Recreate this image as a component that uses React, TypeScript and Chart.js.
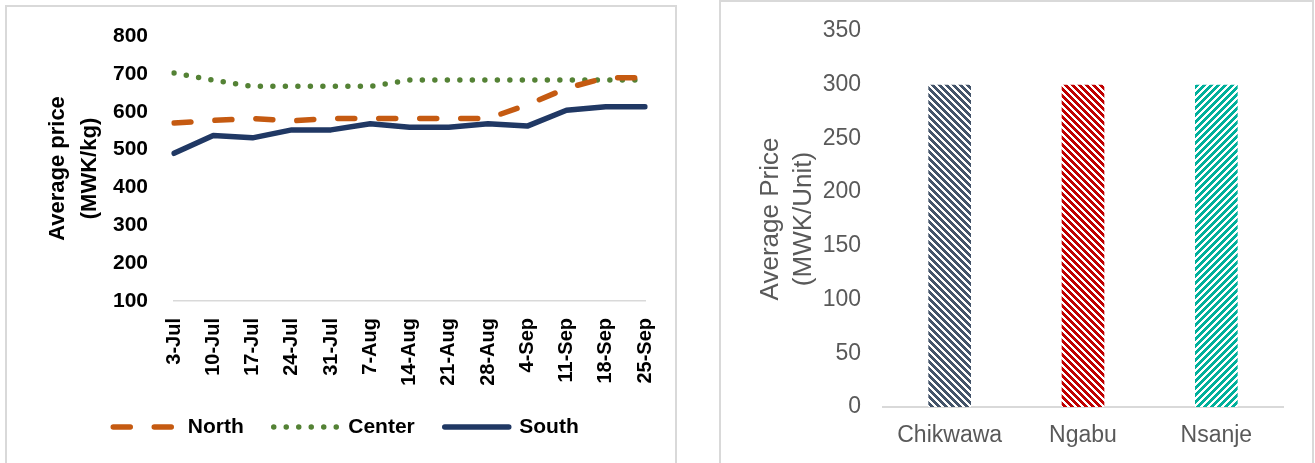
import React, { useEffect, useRef } from "react";
import { Chart, registerables } from "chart.js";

Chart.register(...registerables);

// ---- Left chart data ----
const weeks = ["3-Jul", "10-Jul", "17-Jul", "24-Jul", "31-Jul", "7-Aug", "14-Aug", "21-Aug", "28-Aug", "4-Sep", "11-Sep", "18-Sep", "25-Sep"];
const northPrices = [570, 577, 582, 576, 582, 582, 582, 582, 582, 618, 662, 690, 690];
const centerPrices = [702, 683, 667, 667, 667, 667, 684, 684, 684, 684, 684, 684, 684];
const southPrices = [490, 537, 531, 552, 552, 568, 559, 559, 568, 562, 604, 613, 613];
const lineAxisMin = 100;
const lineAxisMax = 800;
const lineAxisStep = 100;

// ---- Right chart data ----
const districts = ["Chikwawa", "Ngabu", "Nsanje"];
const districtPrices = [300, 300, 300];
const barAxisMin = 0;
const barAxisMax = 350;
const barAxisStep = 50;

const FONT = "'Liberation Sans', Arial, sans-serif";

function stripePattern(color: string, dir: "down" | "up"): CanvasPattern | string {
  const n = 7;
  const c = document.createElement("canvas");
  c.width = n;
  c.height = n;
  const g = c.getContext("2d");
  if (!g) return color;
  g.fillStyle = "#ffffff";
  g.fillRect(0, 0, n, n);
  g.fillStyle = color;
  for (let y = 0; y < n; y++) {
    for (let x = 0; x < n; x++) {
      const k = dir === "down" ? (((x - y) % n) + n) % n : (x + y) % n;
      if (k < 4) g.fillRect(x, y, 1, 1);
    }
  }
  return g.createPattern(c, "repeat") || color;
}

function LineChart() {
  const ref = useRef<HTMLCanvasElement | null>(null);
  useEffect(() => {
    if (!ref.current) return;
    const chart = new Chart(ref.current, {
      type: "line",
      data: {
        labels: weeks,
        datasets: [
          {
            label: "North",
            data: northPrices,
            borderColor: "#c55a11",
            backgroundColor: "#c55a11",
            borderWidth: 5.5,
            borderDash: [17, 24],
            borderCapStyle: "round",
            borderJoinStyle: "round",
            pointRadius: 0,
            tension: 0,
            fill: false,
          },
          {
            label: "Center",
            data: centerPrices,
            borderColor: "#548235",
            backgroundColor: "#548235",
            borderWidth: 5.5,
            borderDash: [0, 12.5],
            borderCapStyle: "round",
            borderJoinStyle: "round",
            pointRadius: 0,
            tension: 0,
            fill: false,
          },
          {
            label: "South",
            data: southPrices,
            borderColor: "#203864",
            backgroundColor: "#203864",
            borderWidth: 5.5,
            borderCapStyle: "round",
            borderJoinStyle: "round",
            pointRadius: 0,
            tension: 0,
            fill: false,
          },
        ],
      },
      options: {
        animation: false,
        responsive: false,
        maintainAspectRatio: false,
        layout: { autoPadding: false, padding: { left: 42, right: 32, top: 31, bottom: 15.5 } },
        plugins: {
          tooltip: { enabled: false },
          legend: {
            position: "bottom",
            labels: {
              usePointStyle: true,
              pointStyle: "line",
              pointStyleWidth: 64,
              padding: 30,
              color: "#000000",
              font: { family: FONT, size: 21, weight: "bold" },
              generateLabels: (ch: any) => {
                const items = Chart.defaults.plugins.legend.labels.generateLabels(ch);
                return items.map((it: any) => {
                  const ds: any = ch.data.datasets[it.datasetIndex];
                  return {
                    ...it,
                    pointStyle: "line",
                    strokeStyle: ds.borderColor,
                    fillStyle: ds.borderColor,
                    lineWidth: ds.borderWidth,
                    lineDash: ds.borderDash || [],
                    lineCap: "round",
                    lineDashOffset: 0,
                  };
                });
              },
            },
          },
        },
        scales: {
          x: {
            offset: false,
            grid: { display: false, drawTicks: true, tickLength: 17, tickColor: "rgba(0,0,0,0)" },
            border: { display: true, color: "#d9d9d9", width: 1.5 },
            ticks: {
              autoSkip: false,
              minRotation: 90,
              maxRotation: 90,
              padding: 0,
              color: "#000000",
              font: { family: FONT, size: 20, weight: "bold" },
            },
            afterFit: (s: any) => {
              s.height = 85.5;
            },
          },
          y: {
            min: lineAxisMin,
            max: lineAxisMax,
            grid: { display: false, drawTicks: true, tickLength: 26, tickColor: "rgba(0,0,0,0)" },
            border: { display: false },
            ticks: {
              stepSize: lineAxisStep,
              padding: 0,
              color: "#000000",
              font: { family: FONT, size: 21, weight: "bold" },
            },
            title: {
              display: true,
              text: ["Average price", "(MWK/kg)"],
              color: "#000000",
              font: { family: FONT, size: 22, weight: "bold", lineHeight: 1.45 },
              padding: { top: -5, bottom: 0 },
            },
            afterFit: (s: any) => {
              s.width = 127;
            },
          },
        },
      },
    } as any);
    return () => chart.destroy();
  }, []);
  return (
    <canvas
      ref={ref}
      width={672}
      height={458}
      style={{ position: "absolute", left: 5, top: 5, width: 672, height: 458 }}
    />
  );
}

function BarChart() {
  const ref = useRef<HTMLCanvasElement | null>(null);
  useEffect(() => {
    if (!ref.current) return;
    const fills = [
      stripePattern("#44546a", "down"),
      stripePattern("#c00000", "down"),
      stripePattern("#00b09b", "up"),
    ];
    const chart = new Chart(ref.current, {
      type: "bar",
      data: {
        labels: districts,
        datasets: [
          {
            label: "Average Price",
            data: districtPrices,
            backgroundColor: fills,
            borderWidth: 0,
            barPercentage: 0.32,
            categoryPercentage: 1,
          },
        ],
      },
      options: {
        animation: false,
        responsive: false,
        maintainAspectRatio: false,
        layout: { autoPadding: false, padding: { left: 0, right: 29, top: 31, bottom: 0 } },
        plugins: {
          tooltip: { enabled: false },
          legend: { display: false },
        },
        scales: {
          x: {
            grid: { display: false, drawTicks: true, tickLength: 15, tickColor: "rgba(0,0,0,0)" },
            border: { display: true, color: "#d9d9d9", width: 2 },
            ticks: {
              padding: 0,
              color: "#595959",
              font: { family: FONT, size: 23 },
            },
            afterFit: (s: any) => {
              s.height = 56;
            },
          },
          y: {
            min: barAxisMin,
            max: barAxisMax,
            grid: { display: false, drawTicks: true, tickLength: 22, tickColor: "rgba(0,0,0,0)" },
            border: { display: false },
            ticks: {
              stepSize: barAxisStep,
              padding: 0,
              color: "#595959",
              font: { family: FONT, size: 23 },
            },
            title: {
              display: true,
              text: ["Average Price", "(MWK/Unit)"],
              color: "#595959",
              font: { family: FONT, size: 26, lineHeight: 1.27 },
              padding: { top: 34.5, bottom: 0 },
            },
            afterFit: (s: any) => {
              s.width = 163;
            },
          },
        },
      },
    } as any);
    return () => chart.destroy();
  }, []);
  return (
    <canvas
      ref={ref}
      width={592}
      height={463}
      style={{ position: "absolute", left: 720, top: 0, width: 592, height: 463 }}
    />
  );
}

export default function App() {
  return (
    <div
      style={{
        position: "fixed",
        left: 0,
        top: 0,
        width: 1315,
        height: 463,
        overflow: "hidden",
        background: "#ffffff",
      }}
    >
      <div
        style={{
          position: "absolute",
          left: 5,
          top: 5,
          width: 672,
          height: 480,
          border: "2px solid #d9d9d9",
          boxSizing: "border-box",
        }}
      />
      <div
        style={{
          position: "absolute",
          left: 719,
          top: 0,
          width: 595,
          height: 480,
          border: "2px solid #d9d9d9",
          boxSizing: "border-box",
        }}
      />
      <LineChart />
      <BarChart />
    </div>
  );
}
